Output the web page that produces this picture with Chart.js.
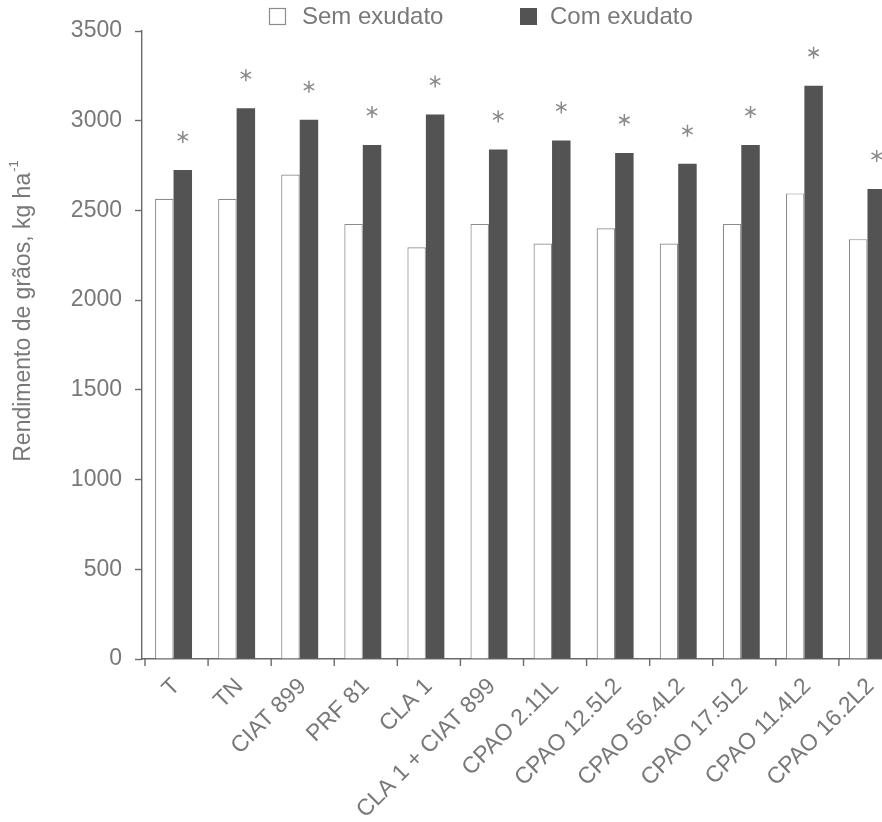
<!DOCTYPE html>
<html lang="pt">
<head>
<meta charset="utf-8">
<title>Rendimento de grãos</title>
<script src="https://cdn.jsdelivr.net/npm/chart.js@4/dist/chart.umd.min.js"></script>
<style>
  html, body { margin: 0; padding: 0; background: #ffffff; overflow: hidden; }
  #wrap { width: 930px; height: 822px; }
</style>
</head>
<body>
<div id="wrap"><canvas id="grafico" width="930" height="822"></canvas></div>
<script>
// Tratamentos (inoculantes / estirpes)
const categorias = ['T', 'TN', 'CIAT 899', 'PRF 81', 'CLA 1', 'CLA 1 + CIAT 899',
  'CPAO 2.11L', 'CPAO 12.5L2', 'CPAO 56.4L2', 'CPAO 17.5L2', 'CPAO 11.4L2', 'CPAO 16.2L2'];

// Rendimento de grãos (kg/ha)
const semExudato = [2565, 2565, 2700, 2425, 2295, 2425, 2315, 2400, 2315, 2425, 2595, 2340];
const comExudato = [2725, 3070, 3005, 2865, 3035, 2840, 2890, 2820, 2760, 2865, 3195, 2620];

// Diferença significativa marcada com asterisco
const significativo = [true, true, true, true, true, true, true, true, true, true, true, true];

const yTicks = [0, 500, 1000, 1500, 2000, 2500, 3000, 3500];

const FONTE = '"Liberation Sans", Arial, Helvetica, sans-serif';
const CINZA_TEXTO = '#787878';
const CINZA_EIXO = '#6a6a6a';
const ESCURO = '#535353';
const BORDA_CLARA = '#8c8c8c';

// Asterisco de seis pontas
function asterisco(ctx, x, y, r) {
  ctx.beginPath();
  for (let k = 0; k < 3; k++) {
    const a = Math.PI / 2 + k * Math.PI / 3;
    ctx.moveTo(x + r * Math.cos(a), y + r * Math.sin(a));
    ctx.lineTo(x - r * Math.cos(a), y - r * Math.sin(a));
  }
  ctx.stroke();
}

// Legenda, título do eixo Y, marcas do eixo X e asteriscos
const extras = {
  id: 'extras',
  afterDraw(chart) {
    const ctx = chart.ctx;
    const xs = chart.scales.x;
    ctx.save();

    // marcas do eixo X entre os tratamentos
    const passo = xs.width / categorias.length;
    ctx.strokeStyle = CINZA_EIXO;
    ctx.lineWidth = 1.4;
    ctx.beginPath();
    for (let i = 0; i <= categorias.length; i++) {
      const x = xs.left + i * passo + 3;
      ctx.moveTo(x, xs.top);
      ctx.lineTo(x, xs.top + 7);
    }
    ctx.stroke();

    // asteriscos sobre as barras escuras
    const meta = chart.getDatasetMeta(1);
    ctx.strokeStyle = '#8a8a8a';
    ctx.lineWidth = 1.5;
    meta.data.forEach((bar, i) => {
      if (significativo[i]) asterisco(ctx, bar.x, bar.y - 33, 6);
    });

    // legenda
    ctx.font = '24px ' + FONTE;
    ctx.textAlign = 'left';
    ctx.textBaseline = 'middle';
    ctx.lineWidth = 1.2;
    ctx.fillStyle = '#ffffff';
    ctx.strokeStyle = BORDA_CLARA;
    ctx.fillRect(269.5, 8.5, 16, 16);
    ctx.strokeRect(269.5, 8.5, 16, 16);
    ctx.fillStyle = CINZA_TEXTO;
    ctx.fillText(chart.data.datasets[0].label, 302, 17);
    ctx.fillStyle = ESCURO;
    ctx.fillRect(520, 8, 17, 17);
    ctx.fillStyle = CINZA_TEXTO;
    ctx.fillText(chart.data.datasets[1].label, 550, 17);

    // título do eixo Y
    ctx.translate(24, 311);
    ctx.rotate(-Math.PI / 2);
    ctx.textBaseline = 'middle';
    ctx.font = '23px ' + FONTE;
    const base = 'Rendimento de grãos, kg ha';
    const wBase = ctx.measureText(base).width;
    ctx.font = '13px ' + FONTE;
    const sup = '-1';
    const wSup = ctx.measureText(sup).width;
    const total = wBase + wSup + 1;
    ctx.textAlign = 'left';
    ctx.font = '23px ' + FONTE;
    ctx.fillText(base, -total / 2, 0);
    ctx.font = '13px ' + FONTE;
    ctx.fillText(sup, -total / 2 + wBase + 1, -10);

    ctx.restore();
  }
};

new Chart(document.getElementById('grafico'), {
  type: 'bar',
  data: {
    labels: categorias,
    datasets: [
      {
        label: 'Sem exudato',
        data: semExudato,
        backgroundColor: '#ffffff',
        borderColor: BORDA_CLARA,
        borderWidth: { top: 1.2, left: 1.2, right: 1.2, bottom: 0 },
        borderSkipped: 'bottom'
      },
      {
        label: 'Com exudato',
        data: comExudato,
        backgroundColor: ESCURO,
        borderWidth: 0
      }
    ]
  },
  options: {
    responsive: false,
    animation: false,
    events: [],
    categoryPercentage: 0.586,
    barPercentage: 1.0,
    layout: { padding: { top: 31, right: 31, left: 0, bottom: 0 } },
    plugins: {
      legend: { display: false },
      tooltip: { enabled: false },
      title: { display: false }
    },
    scales: {
      x: {
        afterFit(scale) { scale.height = 163; },
        grid: {
          display: true,
          drawOnChartArea: false,
          drawTicks: true,
          tickLength: 7,
          color: 'rgba(0,0,0,0)',
          offset: true
        },
        border: { display: true, color: CINZA_EIXO, width: 1.4 },
        ticks: {
          color: CINZA_TEXTO,
          font: { family: FONTE, size: 23 },
          minRotation: 45,
          maxRotation: 45,
          autoSkip: false,
          padding: 7,
          labelOffset: 3
        }
      },
      y: {
        min: 0,
        max: 3500,
        afterFit(scale) { scale.width = 142; },
        afterBuildTicks(scale) { scale.ticks = yTicks.map(v => ({ value: v })); },
        grid: {
          display: true,
          drawOnChartArea: false,
          drawTicks: true,
          tickLength: 7,
          tickWidth: 1.4,
          color: CINZA_EIXO
        },
        border: { display: true, color: CINZA_EIXO, width: 1.4 },
        ticks: {
          color: CINZA_TEXTO,
          font: { family: FONTE, size: 23 },
          padding: 13,
          callback: (v) => String(v)
        }
      }
    }
  },
  plugins: [extras]
});
</script>
</body>
</html>
